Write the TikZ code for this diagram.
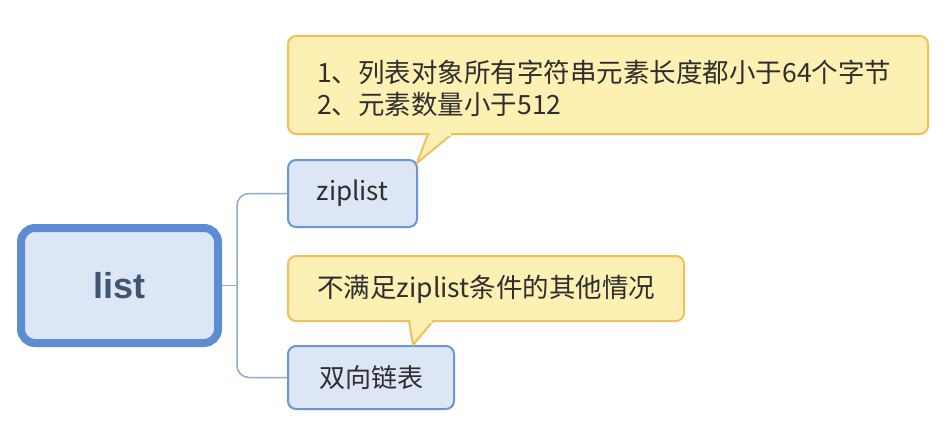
\documentclass[tikz,border=0pt]{standalone}
\usepackage{fontspec}
\setmainfont{Noto Sans CJK SC}
\newfontfamily\latb{Liberation Sans}
\definecolor{bfill}{HTML}{DCE6F4}
\definecolor{bdraw}{HTML}{6B97D0}
\definecolor{bdrawk}{HTML}{5C8CD2}
\definecolor{yfill}{HTML}{FDF0B3}
\definecolor{ydraw}{HTML}{EFC15A}
\definecolor{conn}{HTML}{8FA9C9}
\definecolor{txt}{HTML}{2E2E2E}
\definecolor{roottxt}{HTML}{3F5573}
\begin{document}
\begin{tikzpicture}[x=1pt,y=-1pt,
  bluebox/.style={draw=bdraw,fill=bfill,line width=2pt,rounded corners=8pt,inner sep=0pt,text=txt,font=\fontsize{26}{30}\selectfont},
  rootbox/.style={draw=bdrawk,fill=bfill,line width=8pt,rounded corners=14pt,inner sep=0pt,text=roottxt},
  callbox/.style={draw=ydraw,fill=yfill,line width=2pt,rounded corners=8pt,inner sep=0pt},
  calltext/.style={anchor=west,inner sep=0pt,align=left,text=txt,font=\fontsize{26.5}{32}\selectfont},
  link/.style={draw=conn,line width=1.5pt}]
\fill[white] (0,0) rectangle (946,436);
\useasboundingbox (0,0) rectangle (946,436);
% root
\node[rootbox,minimum width=197pt,minimum height=115pt] (list) at (119.5,285.5) {\latb\bfseries\fontsize{36}{40}\selectfont list};
% children
\node[bluebox,minimum width=129pt,minimum height=67pt] (zip) at (352.5,193.5) {ziplist};
\node[bluebox,minimum width=166pt,minimum height=63pt] (dl) at (371,377.5) {双向链表};
% connectors
\coordinate (j) at (237,285.5);
\draw[link] (list.east) -- (j);
\draw[link,rounded corners=12pt] (j) |- (zip.west);
\draw[link,rounded corners=12pt] (j) |- (dl.west);
% callout 1
\node[callbox,minimum width=640pt,minimum height=98pt] (c1) at (608,85) {};
\coordinate (c1a) at (428,134);
\coordinate (c1b) at (452,134);
\coordinate (c1p) at (417,163);
\fill[yfill] (c1a) -- (c1p) -- (c1b) -- cycle;
\draw[ydraw,line width=2pt,line join=round] (c1a) -- (c1p) -- (c1b);
\fill[yfill] ([xshift=1.5pt,yshift=-1.5pt]c1a) rectangle ([xshift=-1.5pt,yshift=1.5pt]c1b);
\node[calltext] (t1) at (317,88) {1、列表对象所有字符串元素长度都小于64个字节\\2、元素数量小于512};
% callout 2
\node[callbox,minimum width=396pt,minimum height=65pt] (c2) at (486,288.5) {};
\coordinate (c2a) at (409,321);
\coordinate (c2b) at (433,321);
\coordinate (c2p) at (413,345);
\fill[yfill] (c2a) -- (c2p) -- (c2b) -- cycle;
\draw[ydraw,line width=2pt,line join=round] (c2a) -- (c2p) -- (c2b);
\fill[yfill] ([xshift=1.5pt,yshift=-1.5pt]c2a) rectangle ([xshift=-1.5pt,yshift=1.5pt]c2b);
\node[calltext] (t2) at (317,289) {不满足ziplist条件的其他情况};
\end{tikzpicture}
\end{document}
